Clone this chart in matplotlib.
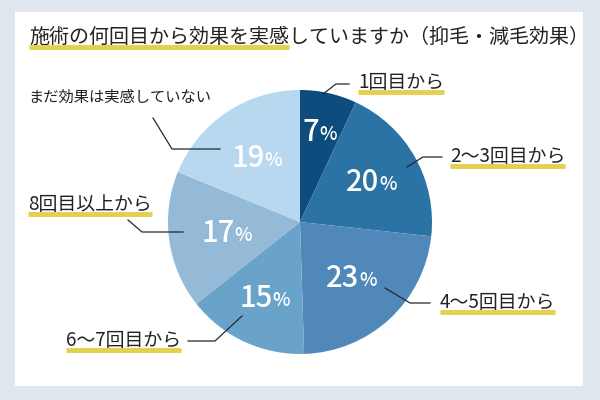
import matplotlib
matplotlib.use("Agg")
import matplotlib.pyplot as plt
from matplotlib.patches import Rectangle
import numpy as np

plt.rcParams['font.family'] = ['Noto Sans CJK JP', 'DejaVu Sans']

title = "施術の何回目から効果を実感していますか（抑毛・減毛効果）"
title_mark = "施術の何回目から効果を実感"
categories = ["1回目から", "2〜3回目から", "4〜5回目から", "6〜7回目から", "8回目以上から", "まだ効果は実感していない"]
values = [7, 20, 23, 15, 17, 19]
colors = ["#0d4d7d", "#2a73a4", "#4f88b9", "#6aa3c9", "#94bad7", "#b7d8ef"]

# layout (pixel coords, y down)
cx, cy, R = 300, 222, 132
pct_r = [0.70, 0.62, 0.57, 0.63, 0.56, 0.59]
label_pos = [(358, 83), (450, 157), (440, 303), (66, 341), (28, 205), (28, 97)]
label_size = [13.6, 13.6, 13.6, 13.6, 13.6, 11]
underlined = [True, True, True, True, True, False]
leaders = [
    [(323, 94), (336, 84), (349, 84)],
    [(407, 167), (423, 157), (442, 157)],
    [(385, 288), (410, 303), (430, 303)],
    [(242, 316), (215, 341), (188, 341)],
    [(128, 220), (142, 232), (183, 232)],
    [(153, 118), (172, 149), (220, 149)],
]
yellow = "#e4d04c"

fig = plt.figure(figsize=(6, 4), dpi=100)
fig.patch.set_facecolor("#dfe6ed")
ax = fig.add_axes([0, 0, 1, 1])
wedges, _ = ax.pie(values, colors=colors, startangle=270, counterclock=True,
                   center=(cx, cy), radius=R, wedgeprops=dict(linewidth=0))
ax.set_xlim(0, 600)
ax.set_ylim(400, 0)
ax.set_aspect("equal")
ax.axis("off")
ax.add_patch(Rectangle((15, 12), 568, 374, facecolor="white", edgecolor="none", zorder=0))

fig.canvas.draw()
rend = fig.canvas.get_renderer()


def width_px(t):
    return t.get_window_extent(renderer=rend).width


# title with underline
tt = ax.text(29, 37, title, fontsize=14.4, va="center", ha="left", color="#222222", zorder=5)
tm = ax.text(29, 37, title_mark, fontsize=14.4, va="center", ha="left", alpha=0)
ax.plot([29, 29 + width_px(tm)], [47, 47], color=yellow, lw=3.5, solid_capstyle="butt", zorder=4)

# percentage labels
for w, v, rf in zip(wedges, values, pct_r):
    th = np.deg2rad((w.theta1 + w.theta2) / 2)
    x = cx + rf * R * np.cos(th)
    y = cy + rf * R * np.sin(th)
    tn = ax.text(0, 0, str(v), fontsize=21, weight="medium", color="white", alpha=0)
    tp = ax.text(0, 0, "%", fontsize=13.5, weight="medium", color="white", alpha=0)
    wn, wp = width_px(tn), width_px(tp)
    xs = x - (wn + wp) / 2
    ax.text(xs, y + 1, str(v), fontsize=21, weight="medium", color="white", ha="left", va="center", zorder=5)
    ax.text(xs + wn, y + 3, "%", fontsize=13.5, weight="medium", color="white", ha="left", va="center", zorder=5)

# category labels and leader lines
for name, (lx, ly), fs, ul, pts in zip(categories, label_pos, label_size, underlined, leaders):
    t = ax.text(lx, ly, name, fontsize=fs, ha="left", va="center", color="#222222", zorder=5)
    if ul:
        ax.plot([lx, lx + width_px(t)], [ly + 9, ly + 9], color=yellow, lw=3.5,
                solid_capstyle="butt", zorder=4)
    xs, ys = zip(*pts)
    ax.plot(xs, ys, color="#1f2a36", lw=0.9, zorder=5)

fig.savefig("out.png", dpi=100, facecolor=fig.get_facecolor())
